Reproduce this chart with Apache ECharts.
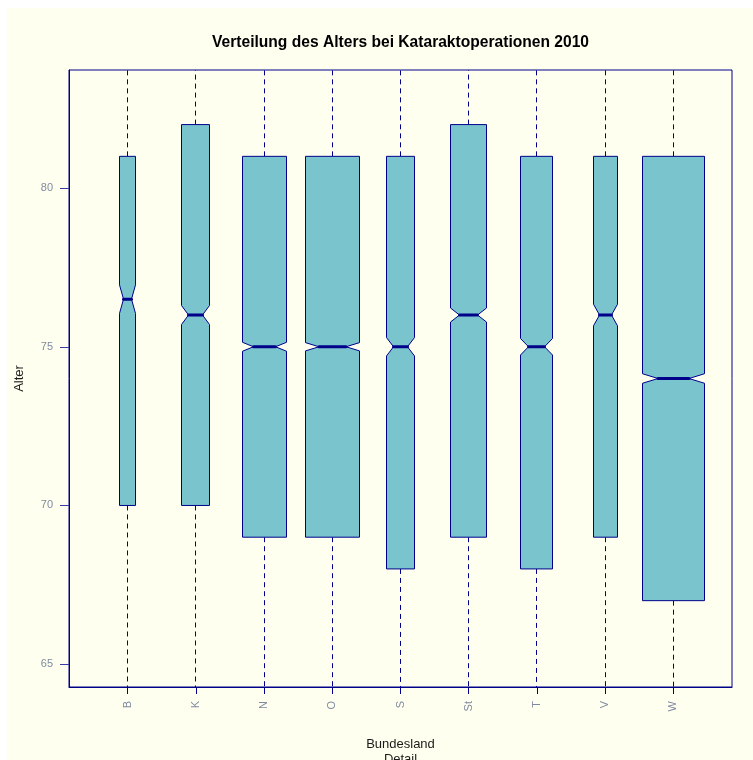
<!DOCTYPE html>
<html>
<head>
<meta charset="utf-8">
<title>Verteilung des Alters bei Kataraktoperationen 2010</title>
<script src="https://cdn.jsdelivr.net/npm/echarts@6/dist/echarts.min.js"></script>
<style>
  html, body { margin: 0; padding: 0; background: #ffffff; }
  #chart { width: 753px; height: 760px; }
</style>
</head>
<body>
<div id="chart"></div>
<script>
// Bundesland codes along the x axis
const categories = ['B', 'K', 'N', 'O', 'S', 'St', 'T', 'V', 'W'];

// Five-number summaries (age in years) per Bundesland
const q1      = [70, 70, 69, 69, 68, 69, 68, 69, 67];
const median  = [76.5, 76, 75, 75, 75, 76, 75, 76, 74];
const q3      = [81, 82, 81, 81, 81, 82, 81, 81, 81];
// Whisker ends lie outside the visible age range
const whiskerLow  = [54, 52, 51, 51, 49, 50, 49, 51, 46];
const whiskerHigh = [97, 98, 99, 99, 100, 101, 100, 99, 102];

// Notch limits (confidence interval of the median)
const notchLow  = [76.05, 75.70, 74.86, 74.87, 74.71, 75.78, 74.74, 75.66, 73.85];
const notchHigh = [76.95, 76.30, 75.14, 75.13, 75.29, 76.22, 75.26, 76.34, 74.15];

// Box widths relative to the largest group (proportional to sqrt(n))
const relWidth = [0.26, 0.443, 0.724, 0.885, 0.464, 0.585, 0.516, 0.381, 1.0];

// Tick values
const yTicks = [65, 70, 75, 80];
const xTicks = [1, 2, 3, 4, 5, 6, 7, 8, 9];

const BOX_FILL = '#7AC5CD';
const BORDER = '#00008B';
const MAX_BOX = 0.91; // width of the widest box in category units

const seriesData = categories.map((c, i) => [
  i + 1, whiskerLow[i], q1[i], notchLow[i], median[i], notchHigh[i], q3[i], whiskerHigh[i], relWidth[i] * MAX_BOX
]);

function snap(v) { return Math.round(v - 0.5) + 0.5; }

function renderBox(params, api) {
  const cs = params.coordSys;
  const top = cs.y, bottom = cs.y + cs.height;
  const xc = snap(api.coord([api.value(0), 70])[0]);
  const hw = Math.round(api.size([api.value(8), 0])[0] / 2);
  const y = v => api.coord([api.value(0), v])[1];
  const yWL = y(api.value(1)), yQ1 = y(api.value(2)), yNL = y(api.value(3));
  const yMed = y(api.value(4)), yNH = y(api.value(5)), yQ3 = y(api.value(6)), yWH = y(api.value(7));
  const xl = xc - hw, xr = xc + hw;
  const children = [];
  const dash = { stroke: BORDER, lineWidth: 1, lineDash: [5, 4] };
  // upper whisker
  children.push({
    type: 'line',
    shape: { x1: xc, y1: yQ3, x2: xc, y2: Math.max(yWH, top) },
    style: dash
  });
  // lower whisker
  children.push({
    type: 'line',
    shape: { x1: xc, y1: yQ1, x2: xc, y2: Math.min(yWL, bottom) },
    style: dash
  });
  // notched box
  children.push({
    type: 'polygon',
    shape: {
      points: [
        [xl, yQ1], [xr, yQ1], [xr, yNL], [xc + hw / 2, yMed], [xr, yNH], [xr, yQ3],
        [xl, yQ3], [xl, yNH], [xc - hw / 2, yMed], [xl, yNL]
      ]
    },
    style: { fill: BOX_FILL, stroke: BORDER, lineWidth: 1 }
  });
  // median
  children.push({
    type: 'line',
    shape: { x1: xc - hw / 2, y1: yMed, x2: xc + hw / 2, y2: yMed },
    style: { stroke: BORDER, lineWidth: 3, lineCap: 'round' }
  });
  return { type: 'group', children };
}

const chart = echarts.init(document.getElementById('chart'), null, { renderer: 'canvas' });

chart.setOption({
  animation: false,
  backgroundColor: '#ffffff',
  graphic: [
    {
      type: 'rect', z: -10, silent: true,
      shape: { x: 7, y: 8, width: 746, height: 752 },
      style: { fill: '#FFFFF0' }
    },
    {
      type: 'text', z: 10,
      style: {
        x: 400.5, y: 43, text: 'Verteilung des Alters bei Kataraktoperationen 2010',
        font: 'bold 15.6px "Liberation Sans", Arial, sans-serif', fill: '#000000',
        textAlign: 'center', textVerticalAlign: 'middle'
      }
    }
  ],
  grid: {
    left: 69, top: 70, width: 663, height: 617,
    outerBoundsMode: 'none',
    show: true, borderColor: BORDER, borderWidth: 1, backgroundColor: 'transparent',
    containLabel: false
  },
  xAxis: {
    type: 'value',
    min: 0.14, max: 9.86,
    name: 'Bundesland\nDetail',
    nameLocation: 'middle',
    nameGap: 50,
    nameTextStyle: {
      fontFamily: '"Liberation Sans", Arial, sans-serif', fontSize: 13,
      color: '#1a1a1a', lineHeight: 15, verticalAlign: 'top'
    },
    splitLine: { show: false },
    axisLine: { show: true, lineStyle: { color: BORDER, width: 1 } },
    axisTick: {
      show: true, inside: false, length: 7,
      customValues: xTicks,
      lineStyle: { color: BORDER, width: 1 }
    },
    axisLabel: {
      show: true, rotate: 90, margin: 14,
      customValues: xTicks,
      formatter: v => categories[Math.round(v) - 1] || '',
      fontFamily: '"Liberation Sans", Arial, sans-serif', fontSize: 11, color: '#7f8aa0'
    }
  },
  yAxis: {
    type: 'value',
    min: 64.28, max: 83.72,
    name: 'Alter',
    nameLocation: 'middle',
    nameGap: 43,
    nameRotate: 90,
    nameTextStyle: {
      fontFamily: '"Liberation Sans", Arial, sans-serif', fontSize: 13, color: '#1a1a1a'
    },
    splitLine: { show: false },
    axisLine: { show: true, lineStyle: { color: BORDER, width: 1 } },
    axisTick: {
      show: true, inside: false, length: 9,
      customValues: yTicks,
      lineStyle: { color: '#3a3aa8', width: 1 }
    },
    axisLabel: {
      show: true, margin: 16,
      customValues: yTicks,
      fontFamily: '"Liberation Sans", Arial, sans-serif', fontSize: 11, color: '#7f8aa0'
    }
  },
  series: [{
    type: 'custom',
    name: 'Alter',
    renderItem: renderBox,
    data: seriesData,
    clip: true,
    encode: { x: 0, y: [1, 2, 3, 4, 5, 6, 7] }
  }]
});
</script>
</body>
</html>
